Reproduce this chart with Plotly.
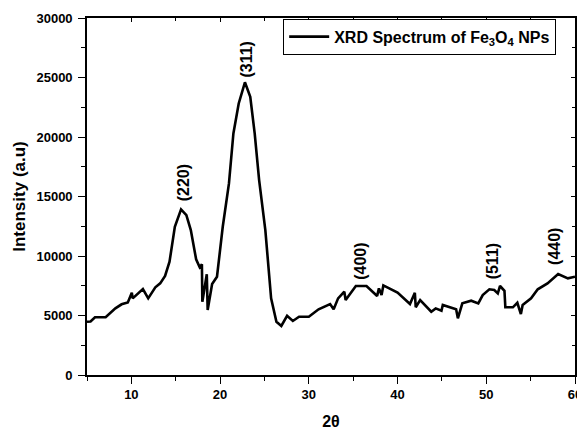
import plotly.graph_objects as go

two_theta = [5.0, 5.4, 5.9, 7.1, 8.2, 8.9, 9.6, 10.05, 10.15, 11.3, 11.9, 12.7, 13.25, 13.8, 14.3, 14.9,
             15.6, 16.2, 16.7, 17.3, 17.7, 17.95, 18.0, 18.5, 18.6, 19.1, 19.65, 20.3, 21.0, 21.5, 22.1,
             22.8, 23.4, 23.9, 24.4, 25.1, 25.75, 26.35, 26.9, 27.55, 28.2, 28.9, 30.0, 31.1, 32.4,
             32.8, 33.3, 34.0, 34.15, 35.3, 36.5, 37.7, 37.9, 38.2, 38.4, 40.0, 41.4, 41.95, 42.05,
             42.55, 43.8, 44.3, 44.95, 45.1, 46.6, 46.8, 47.3, 48.3, 49.1, 49.6, 50.35, 50.9, 51.3,
             51.55, 52.05, 52.15, 53.0, 53.5, 53.9, 54.1, 55.05, 55.8, 56.9, 58.1, 59.2, 60.0]
intensity = [4480, 4500, 4850, 4850, 5600, 5940, 6100, 6910, 6440, 7220, 6440, 7370, 7700, 8320, 9520,
             12460, 13920, 13440, 12180, 9720, 9050, 9300, 6160, 8460, 5460, 7640, 8260, 12460, 16100,
             20300, 22820, 24600, 23380, 20300, 16380, 12180, 6440, 4480, 4120, 4980, 4540, 4900, 4900,
             5520, 5960, 5520, 6440, 7000, 6300, 7480, 7480, 6640, 7280, 6720, 7530, 6920, 5960, 6910,
             5690, 6300, 5320, 5600, 5400, 5880, 5520, 4760, 6020, 6240, 6020, 6720, 7200, 7140, 6860,
             7480, 7080, 5690, 5690, 6070, 5120, 5880, 6440, 7200, 7700, 8480, 8120, 8260]

peak_labels = ["(220)", "(311)", "(400)", "(511)", "(440)"]
peak_x = [15.9, 23.0, 35.9, 50.8, 57.6]
peak_y = [14450, 24800, 7800, 7900, 9100]

x_ticks = [10, 20, 30, 40, 50, 60]
x_minor = [5, 15, 25, 35, 45, 55]
y_ticks = [0, 5000, 10000, 15000, 20000, 25000, 30000]
y_minor = [2500, 7500, 12500, 17500, 22500, 27500]

x_range = [5, 60]
y_range = [0, 30000]

font_fam = "Liberation Sans, Arial, sans-serif"

fig = go.Figure()
fig.add_trace(go.Scatter(x=two_theta, y=intensity, mode="lines",
                         line=dict(color="black", width=2.6),
                         name="XRD Spectrum of Fe<sub>3</sub>O<sub>4</sub> NPs"))
# invisible trace to carry the mirrored (top/right) axes
fig.add_trace(go.Scatter(x=x_range, y=y_range, xaxis="x2", yaxis="y2", mode="lines",
                         line=dict(color="rgba(0,0,0,0)"), showlegend=False, hoverinfo="skip"))

for lab, px, py in zip(peak_labels, peak_x, peak_y):
    fig.add_annotation(x=px, y=py, text=lab, textangle=-90, showarrow=False,
                       xanchor="center", yanchor="bottom",
                       font=dict(family=font_fam, size=16, color="black", weight="bold"))

axis_common = dict(showline=True, linecolor="black", linewidth=1.6, showgrid=False, zeroline=False,
                   ticks="outside", ticklen=7, tickwidth=1.4, tickcolor="black",
                   ticklabeloverflow="allow", automargin=False,
                   tickfont=dict(family=font_fam, size=13, color="black", weight="bold"))

fig.update_layout(
    width=577, height=430,
    margin=dict(l=87, r=2, t=18, b=55),
    plot_bgcolor="white", paper_bgcolor="white",
    xaxis=dict(range=x_range, tickvals=x_ticks,
               minor=dict(tickvals=x_minor, ticklen=4, tickcolor="black", ticks="outside", tickwidth=1.2),
               title=dict(text="2θ", font=dict(family=font_fam, size=16, color="black", weight="bold"), standoff=14),
               **axis_common),
    yaxis=dict(range=y_range, tickvals=y_ticks, tickformat="d", ticklabelstandoff=3,
               minor=dict(tickvals=y_minor, ticklen=4, tickcolor="black", ticks="outside", tickwidth=1.2),
               title=dict(text="Intensity (a.u)", font=dict(family=font_fam, size=17, color="black", weight="bold"), standoff=6),
               **axis_common),
    xaxis2=dict(range=x_range, overlaying="x", side="top", showline=True, linecolor="black", linewidth=1.6,
                showgrid=False, zeroline=False, ticks="inside", ticklen=4, tickcolor="black",
                tickvals=x_ticks, showticklabels=False, automargin=False,
                minor=dict(tickvals=x_minor, ticklen=3, ticks="inside", tickcolor="black")),
    yaxis2=dict(range=y_range, overlaying="y", side="right", showline=True, linecolor="black", linewidth=1.6,
                showgrid=False, zeroline=False, ticks="inside", ticklen=4, tickcolor="black",
                tickvals=y_ticks, showticklabels=False, automargin=False,
                minor=dict(tickvals=y_minor, ticklen=3, ticks="inside", tickcolor="black")),
    legend=dict(x=0.402, y=0.998, xanchor="left", yanchor="top", bgcolor="white",
                bordercolor="black", borderwidth=1,
                font=dict(family=font_fam, size=16, color="black", weight="bold"),
                itemwidth=40, tracegroupgap=0),
    showlegend=True,
)

fig.write_html("out.html")
